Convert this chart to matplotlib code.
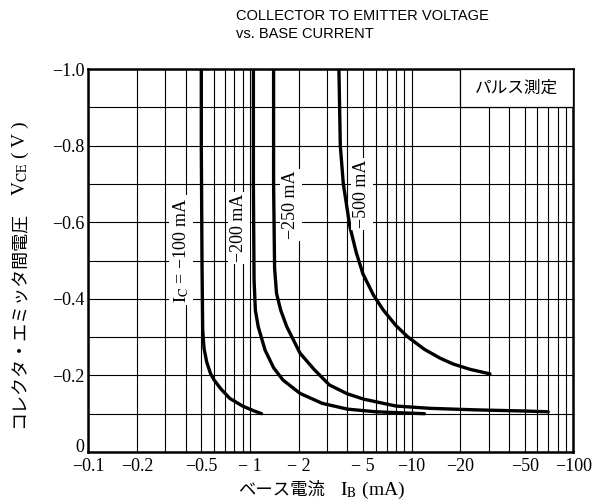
import numpy as np
import matplotlib
matplotlib.use("Agg")
import matplotlib.pyplot as plt
from matplotlib.patches import Rectangle
from matplotlib import font_manager

plt.rcParams['font.family'] = ['Liberation Serif', 'Noto Sans CJK JP', 'DejaVu Sans']
plt.rcParams['mathtext.fontset'] = 'stix'

# ---- data (IB in mA, VCE in V; negative as labelled) ----
ib_100 = [-0.50, -0.50, -0.505, -0.51, -0.52, -0.54, -0.57, -0.60, -0.66, -0.75, -0.90, -1.05, -1.18]
vce_100 = [-1.0, -0.80, -0.50, -0.32, -0.27, -0.235, -0.205, -0.188, -0.165, -0.140, -0.120, -0.108, -0.100]

ib_200 = [-1.05, -1.05, -1.06, -1.08, -1.125, -1.24, -1.40, -1.60, -2.04, -2.8, -4.0, -6.0, -9.0, -12.0]
vce_200 = [-1.0, -0.70, -0.45, -0.37, -0.327, -0.266, -0.220, -0.188, -0.153, -0.127, -0.112, -0.105, -0.102, -0.100]

ib_250 = [-1.40, -1.40, -1.42, -1.46, -1.55, -1.69, -2.04, -2.5, -3.1, -4.0, -5.05, -8.0, -13.0, -25.0, -50.0, -70.0]
vce_250 = [-1.0, -0.70, -0.48, -0.414, -0.37, -0.327, -0.258, -0.215, -0.175, -0.152, -0.138, -0.120, -0.114, -0.110, -0.107, -0.105]

ib_500 = [-3.55, -3.62, -3.78, -4.15, -4.55, -5.0, -5.8, -6.67, -8.0, -9.5, -12.0, -15.0, -18.0, -22.9, -30.5]
vce_500 = [-1.0, -0.80, -0.70, -0.588, -0.52, -0.465, -0.41, -0.371, -0.33, -0.300, -0.268, -0.245, -0.230, -0.216, -0.204]

curve_labels = ["$\\mathrm{I_C}$ = \u2212100 mA", "\u2212200 mA", "\u2212250 mA", "\u2212500 mA"]

xtick_vals = [-0.1, -0.2, -0.5, -1, -2, -5, -10, -20, -50, -100]
xtick_labels = ["\u22120.1", "\u22120.2", "\u22120.5", "\u2212 1", "\u2212 2", "\u2212 5", "\u221210", "\u221220", "\u221250", "\u2212100"]
ytick_vals = [-1.0, -0.8, -0.6, -0.4, -0.2, 0]
ytick_labels = ["\u22121.0", "\u22120.8", "\u22120.6", "\u22120.4", "\u22120.2", "0"]

title_text = "COLLECTOR TO EMITTER VOLTAGE\nvs. BASE CURRENT"
box_text = "パルス測定"
xlabel_jp, xlabel_sym = "ベース電流", "$\\mathrm{I_B}$ (mA)"
ylabel_jp, ylabel_sym = "コレクタ・エミッタ間電圧", "$\\mathrm{V_{CE}}$ ( V )"

installed = {f.name for f in font_manager.fontManager.ttflist}
title_family = ['Liberation Sans Narrow'] if 'Liberation Sans Narrow' in installed else ['Liberation Sans']
title_size = 12 if 'Liberation Sans Narrow' in installed else 10.5

fig = plt.figure(figsize=(6.04, 5.01), dpi=100)
ax = fig.add_axes([88.3 / 604, 1 - 452 / 501, (573.3 - 88.3) / 604, (452 - 69) / 501])
ax.set_xscale('log')
ax.set_xlim(0.1, 100)
ax.set_ylim(0, -1.0)

# grid positions
grid_x = [m * 10.0 ** e for e in (-1, 0, 1) for m in range(1, 10)] + [100.0]
grid_y = [-0.1 * i for i in range(11)]
ax.set_xticks(grid_x)
lab_map = {abs(v): l for v, l in zip(xtick_vals, xtick_labels)}
ax.set_xticklabels([lab_map.get(round(g, 6), "") for g in grid_x])
ax.xaxis.set_minor_locator(matplotlib.ticker.NullLocator())
ax.set_yticks(grid_y)
ylab_map = {round(v, 3): l for v, l in zip(ytick_vals, ytick_labels)}
ax.set_yticklabels([ylab_map.get(round(g, 3), "") for g in grid_y])
ax.tick_params(length=0, labelsize=13, pad=4)
ax.tick_params(axis='y', pad=3)
for lbl in ax.get_yticklabels():
    if lbl.get_text() == "0":
        lbl.set_verticalalignment('baseline')
ax.grid(True, color='black', linewidth=0.8)
for s in ax.spines.values():
    s.set_linewidth(1.8)

# box "パルス測定"
ax.add_patch(Rectangle((20, -0.9), 80, -0.1, facecolor='white', edgecolor='black',
                       linewidth=0.9, zorder=2.6, clip_on=False))
ax.text((20 * 100) ** 0.5, -0.95, box_text, ha='center', va='center', fontsize=12,
        family=['Noto Sans CJK JP'], zorder=3)

for ib, v in [(ib_100, vce_100), (ib_200, vce_200), (ib_250, vce_250), (ib_500, vce_500)]:
    ax.plot(np.abs(ib), v, color='black', linewidth=2.4, solid_joinstyle='round',
            solid_capstyle='round', zorder=4)

label_pos = [(0.374, -0.527), (0.855, -0.585), (1.79, -0.645), (4.93, -0.674)]
for (x, y), t in zip(label_pos, curve_labels):
    ax.text(x, y, t, rotation=90, ha='center', va='center', fontsize=13, zorder=5,
            bbox=dict(facecolor='white', edgecolor='none', pad=1.5))

fig.text(236 / 604, 1 - 25 / 501, title_text, ha='left', va='center', fontsize=title_size,
         family=title_family, linespacing=1.3)

# axis labels (Japanese part and symbol part as separate texts)
fig.text(282 / 604, 1 - 490 / 501, xlabel_jp, ha='center', va='center', fontsize=12.5,
         family=['Noto Sans CJK JP'])
fig.text(373 / 604, 1 - 490 / 501, xlabel_sym, ha='center', va='center', fontsize=14)
fig.text(20 / 604, 1 - 320 / 501, ylabel_jp, ha='center', va='center', rotation=90,
         fontsize=13, family=['Noto Sans CJK JP'])
fig.text(20 / 604, 1 - 158 / 501, ylabel_sym, ha='center', va='center', rotation=90,
         fontsize=14)

fig.savefig("out.png", dpi=100)
